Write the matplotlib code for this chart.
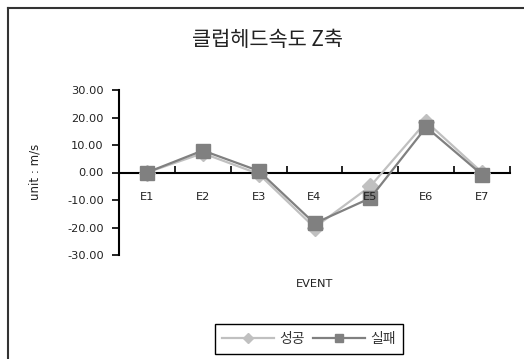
import matplotlib.pyplot as plt
from matplotlib.lines import Line2D

plt.rcParams['font.family'] = ['Noto Sans CJK KR', 'DejaVu Sans']

events = ['E1', 'E2', 'E3', 'E4', 'E5', 'E6', 'E7']
success = [0.0, 7.0, -0.5, -20.0, -5.0, 18.5, 0.0]
fail = [0.0, 8.0, 0.6, -18.5, -9.3, 16.5, -0.8]
yticks = [30, 20, 10, 0, -10, -20, -30]

W, H = 524, 359
fig = plt.figure(figsize=(W / 100, H / 100), dpi=100)
ax = fig.add_axes([119 / W, 1 - 255 / H, 391 / W, 165 / H])

x = list(range(len(events)))
ax.plot(x, success, color='#c0c0c0', lw=1.6, marker='D', ms=8.5,
        mec='#c0c0c0', mfc='#c0c0c0', label='성공', zorder=3)
ax.plot(x, fail, color='#808080', lw=1.6, marker='s', ms=9.5,
        mec='#808080', mfc='#808080', label='실패', zorder=4)

ax.set_xlim(-0.5, len(events) - 0.5)
ax.set_ylim(-30, 30)
ax.set_yticks(yticks)
ax.set_yticklabels(['%.2f' % v for v in yticks], family='DejaVu Sans', fontsize=8.2,
                   color='#222222')
ax.tick_params(axis='y', direction='out', length=5, width=1.2, pad=6)

# x axis drawn through zero, ticks between categories
ax.spines['bottom'].set_position(('data', 0))
ax.spines['top'].set_visible(False)
ax.spines['right'].set_visible(False)
ax.spines['left'].set_linewidth(1.5)
ax.spines['bottom'].set_linewidth(1.5)
ax.set_xticks(x)
ax.set_xticklabels(events, family='DejaVu Sans', fontsize=8.2, color='#222222')
ax.tick_params(axis='x', which='major', length=0, pad=14)
ax.set_xticks([i + 0.5 for i in x], minor=True)
ax.tick_params(axis='x', which='minor', direction='in', length=5, width=1.2)
ax.xaxis.set_zorder(5)
ax.patch.set_alpha(0)

fig.text(268 / W, 1 - 40 / H, '클럽헤드속도 Z축', ha='center', va='center',
         fontsize=15, color='#222222')
fig.text(315 / W, 1 - 284 / H, 'EVENT', ha='center', va='center',
         family='DejaVu Sans', fontsize=8.2, color='#222222')
fig.text(35 / W, 1 - 172 / H, 'unit : m/s', ha='center', va='center',
         rotation=90, family='DejaVu Sans', fontsize=8.5, color='#222222')

leg = fig.legend(loc='center', bbox_to_anchor=(309 / W, 1 - 339 / H), ncol=2,
                 fancybox=False, edgecolor='black', framealpha=1, fontsize=10,
                 handlelength=3.7, markerscale=0.6, columnspacing=0.6,
                 handletextpad=0.4, borderpad=0.55)
leg.get_frame().set_linewidth(1.0)
for t in leg.get_texts():
    t.set_color('#333333')

# chart area border on the left and top
fig.add_artist(Line2D([8 / W, 8 / W], [0, 1 - 8 / H], color='#333333', lw=1.5))
fig.add_artist(Line2D([8 / W, 1], [1 - 8 / H, 1 - 8 / H], color='#333333', lw=1.5))

fig.savefig('out.png', dpi=100)
